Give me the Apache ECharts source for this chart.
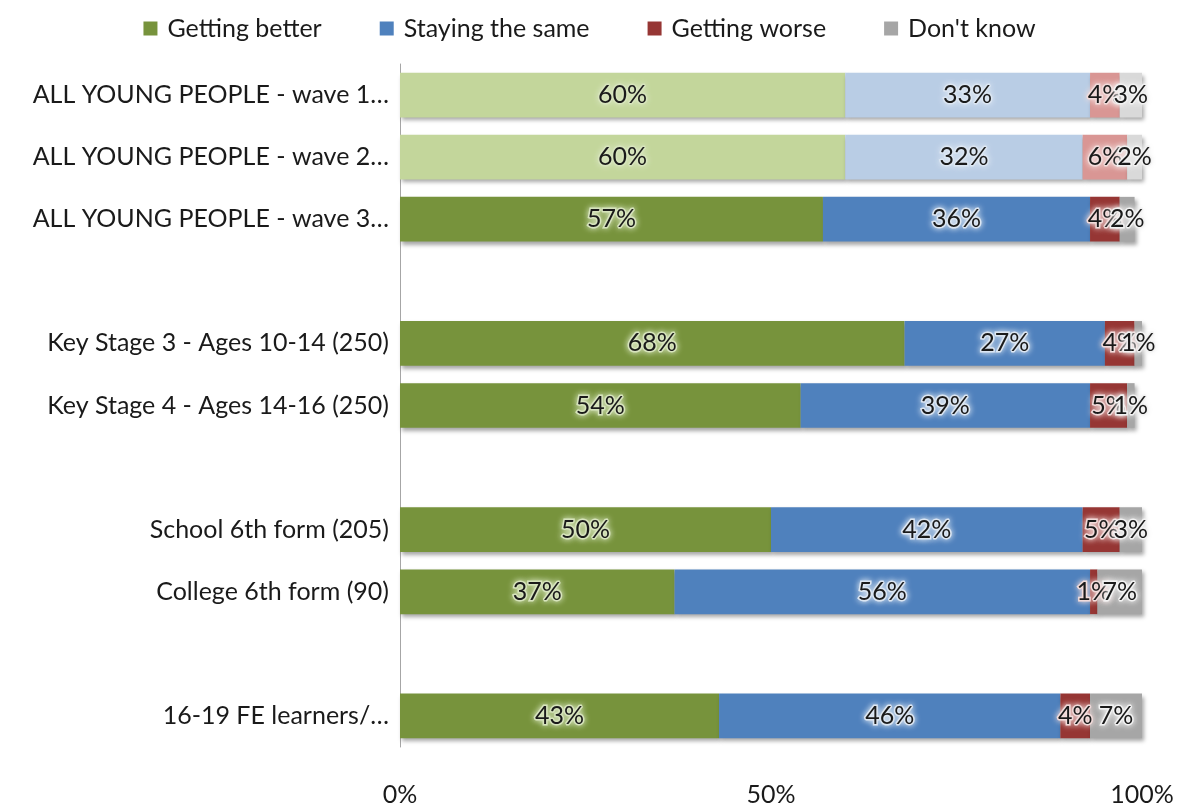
<!DOCTYPE html>
<html>
<head>
<meta charset="utf-8">
<script src="https://cdn.jsdelivr.net/npm/echarts@6/dist/echarts.min.js"></script>
<style>
  html, body { margin: 0; padding: 0; background: #fff; }
  #chart { width: 1179px; height: 807px; }
</style>
</head>
<body>
<div id="chart"></div>
<script>
// Survey groups (blank entries leave a gap between groups)
const categories = [
  'ALL YOUNG PEOPLE - wave 1…',
  'ALL YOUNG PEOPLE - wave 2…',
  'ALL YOUNG PEOPLE - wave 3…',
  '',
  'Key Stage 3 - Ages 10-14 (250)',
  'Key Stage 4 - Ages 14-16 (250)',
  '',
  'School 6th form (205)',
  'College 6th form (90)',
  '',
  '16-19 FE learners/…'
];
const gettingBetter = [60, 60, 57, null, 68, 54, null, 50, 37, null, 43];
const stayingSame   = [33, 32, 36, null, 27, 39, null, 42, 56, null, 46];
const gettingWorse  = [4, 6, 4, null, 4, 5, null, 5, 1, null, 4];
const dontKnow      = [3, 2, 2, null, 1, 1, null, 3, 7, null, 7];
const xTicks = [0, 50, 100];
// Earlier waves are drawn in paler tones
const fadedRows = [0, 1];

const FONT = 'Lato';
const FONT_SIZE = 25;
const seriesDefs = [
  { name: 'Getting better',    values: gettingBetter, color: '#77933C', pale: '#C3D69B', glow: '#D7E4BD' },
  { name: 'Staying the same',  values: stayingSame,   color: '#4F81BD', pale: '#B9CDE5', glow: '#DCE6F2' },
  { name: 'Getting worse',     values: gettingWorse,  color: '#963634', pale: '#D99694', glow: '#F2DCDB' },
  { name: "Don't know",        values: dontKnow,      color: '#A6A6A6', pale: '#D9D9D9', glow: '#F2F2F2' }
];

const series = seriesDefs.map(def => ({
  name: def.name,
  type: 'bar',
  stack: 'total',
  barWidth: '72%',
  color: def.color,
  itemStyle: {
    color: def.color,
    shadowColor: 'rgba(0,0,0,0.35)',
    shadowBlur: 4,
    shadowOffsetX: 2,
    shadowOffsetY: 3
  },
  label: {
    show: true,
    position: 'inside',
    formatter: p => p.value + '%',
    fontFamily: FONT,
    fontSize: FONT_SIZE,
    color: '#1a1a1a',
    textBorderColor: def.glow,
    textBorderWidth: 3,
    textShadowColor: def.glow,
    textShadowBlur: 6
  },
  data: def.values.map((v, i) => {
    if (v === null) return '-';
    if (fadedRows.includes(i)) {
      return { value: v, itemStyle: { color: def.pale } };
    }
    return v;
  })
}));

const chart = echarts.init(document.getElementById('chart'));
chart.setOption({
  animation: false,
  backgroundColor: '#fff',
  legend: {
    top: 11,
    left: 'center',
    itemWidth: 14,
    itemHeight: 14,
    itemGap: 58,
    icon: 'rect',
    textStyle: { fontFamily: FONT, fontSize: FONT_SIZE, color: '#1a1a1a', padding: [0, 0, 0, 5] },
    data: seriesDefs.map(d => d.name)
  },
  grid: { left: 400, right: 37, top: 64, bottom: 55, containLabel: false },
  xAxis: {
    type: 'value',
    min: 0,
    max: 100,
    interval: 50,
    axisLine: { show: false },
    axisTick: { show: false },
    splitLine: { show: false },
    axisLabel: {
      margin: 35,
      fontFamily: FONT,
      fontSize: FONT_SIZE,
      color: '#1a1a1a',
      formatter: v => (xTicks.includes(v) ? v + '%' : '')
    }
  },
  yAxis: {
    type: 'category',
    inverse: true,
    data: categories,
    axisLine: { show: true, lineStyle: { color: '#A6A6A6', width: 1 } },
    axisTick: { show: false },
    axisLabel: {
      margin: 11,
      fontFamily: FONT,
      fontSize: FONT_SIZE,
      color: '#1a1a1a'
    }
  },
  series: series
});
</script>
</body>
</html>
